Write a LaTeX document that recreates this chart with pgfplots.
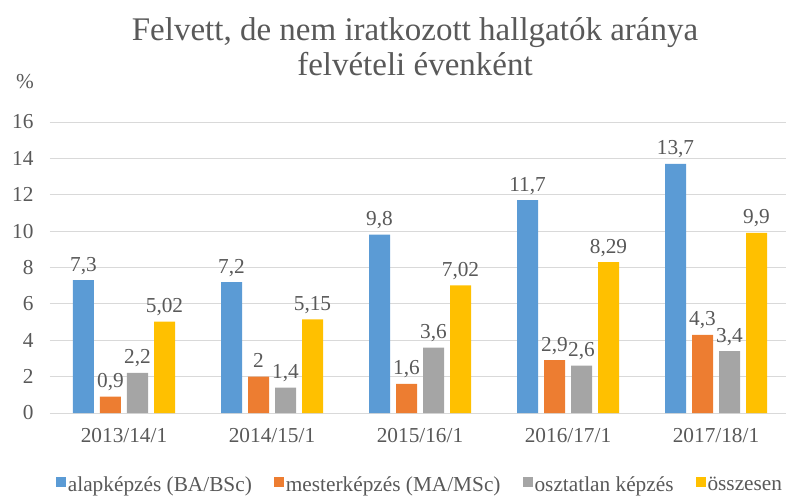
\documentclass[border=0pt]{standalone}
\usepackage{fontspec}
\setmainfont{Liberation Serif}
\usepackage{pgfplots}
\pgfplotsset{compat=1.18}
\definecolor{cblue}{HTML}{5B9BD5}
\definecolor{corange}{HTML}{ED7D31}
\definecolor{cgray}{HTML}{A5A5A5}
\definecolor{cyellow}{HTML}{FFC000}
\definecolor{txt}{HTML}{595959}
\definecolor{grid}{HTML}{D9D9D9}
\newcommand{\lbl}{\fontsize{21.3bp}{25bp}\selectfont}
\begin{document}
\begin{tikzpicture}
\begin{axis}[
  scale only axis,
  x=148bp, y=18.19bp,
  xmin=-0.5, xmax=4.473, ymin=0, ymax=16,
  ybar=6bp, bar width=21bp,
  xtick={0,1,2,3,4},
  xticklabels={2013/14/1,2014/15/1,2015/16/1,2016/17/1,2017/18/1},
  ytick={0,2,...,16},
  /pgf/number format/assume math mode=true,
  tick style={draw=none},
  ymajorgrids, grid style={draw=grid, line width=0.9bp},
  axis line style={draw=none},
  ticklabel style={font=\lbl, text=txt},
  yticklabel style={xshift=-13bp},
  xticklabel style={yshift=-8bp},
  nodes near coords={\pgfmathprintnumber[use comma]{\pgfplotspointmeta}},
  every node near coord/.append style={font=\lbl, text=txt, anchor=base, yshift=9bp},
  legend columns=4,
  legend style={draw=none, fill=none, at={(370bp,-71.5bp)}, anchor=center,
    font=\lbl, text=txt, nodes={inner xsep=1.5bp, inner ysep=0bp},
    /tikz/every even column/.append style={column sep=21bp}},
  legend image code/.code={\fill[#1,draw=none] (0bp,-2bp) rectangle (10bp,8bp);},
]
\addplot[fill=cblue, draw=none] coordinates {(0,7.3) (1,7.2) (2,9.8) (3,11.7) (4,13.7)};
\addplot[fill=corange, draw=none] coordinates {(0,0.9) (1,2) (2,1.6) (3,2.9) (4,4.3)};
\addplot[fill=cgray, draw=none] coordinates {(0,2.2) (1,1.4) (2,3.6) (3,2.6) (4,3.4)};
\addplot[fill=cyellow, draw=none] coordinates {(0,5.02) (1,5.15) (2,7.02) (3,8.29) (4,9.9)};
\legend{alapképzés (BA/BSc),mesterképzés (MA/MSc),osztatlan képzés,összesen}
\end{axis}
\node[anchor=base, text=txt, font=\lbl] at (-25bp,324bp) {\%};
\node[anchor=base, text=txt, font=\fontsize{33bp}{38bp}\selectfont] at (365bp,372bp) {Felvett, de nem iratkozott hallgatók aránya};
\node[anchor=base, text=txt, font=\fontsize{33bp}{38bp}\selectfont] at (365bp,337bp) {felvételi évenként};
\pgfresetboundingbox
\path (-50bp,-84bp) rectangle (736bp,413bp);
\end{tikzpicture}
\end{document}
